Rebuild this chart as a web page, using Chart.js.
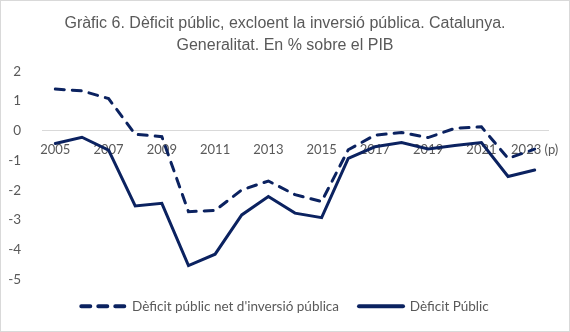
<!DOCTYPE html>
<html>
<head>
<meta charset="utf-8">
<script src="https://cdn.jsdelivr.net/npm/chart.js@4"></script>
<style>
    html, body { margin: 0; padding: 0; background: #fff; }
    #frame {
        width: 570px; height: 332px; box-sizing: border-box;
        border: 1px solid #d9d9d9; background: #fff;
    }
    #chartBox { width: 568px; height: 330px; position: relative; }
</style>
</head>
<body>
<div id="frame"><div id="chartBox"><canvas id="deficitChart"></canvas></div></div>
<script>
// Anys de la sèrie (2023 és previsió)
var years = ['2005', '2006', '2007', '2008', '2009', '2010', '2011', '2012', '2013', '2014',
    '2015', '2016', '2017', '2018', '2019', '2020', '2021', '2022', '2023 (p)'];

// Dèficit públic net d'inversió pública (% PIB)
var deficitNetInversio = [1.40, 1.34, 1.08, -0.12, -0.20, -2.72, -2.68, -1.99, -1.69, -2.15,
    -2.38, -0.64, -0.15, -0.06, -0.23, 0.08, 0.13, -0.93, -0.62];

// Dèficit públic (% PIB)
var deficitPublic = [-0.43, -0.22, -0.65, -2.53, -2.44, -4.53, -4.15, -2.83, -2.21, -2.77,
    -2.92, -0.93, -0.54, -0.40, -0.61, -0.50, -0.40, -1.54, -1.32];

var yTicks = [2, 1, 0, -1, -2, -3, -4, -5];

var navy = '#0b2260';
var grey = '#595959';
var dashPattern = [9, 8];

const ctx = document.getElementById('deficitChart').getContext('2d');
new Chart(ctx, {
    type: 'line',
    data: {
        labels: years,
        datasets: [
            {
                label: "Dèficit públic net d'inversió pública",
                data: deficitNetInversio,
                borderColor: navy,
                backgroundColor: navy,
                borderWidth: 3,
                borderDash: dashPattern,
                borderCapStyle: 'round',
                pointRadius: 0,
                tension: 0
            },
            {
                label: 'Dèficit Públic',
                data: deficitPublic,
                borderColor: navy,
                backgroundColor: navy,
                borderWidth: 3,
                borderCapStyle: 'round',
                pointRadius: 0,
                tension: 0
            }
        ]
    },
    options: {
        responsive: true,
        maintainAspectRatio: false,
        animation: false,
        layout: { padding: { top: 11, right: 0, bottom: 8, left: 0 } },
        plugins: {
            title: {
                display: true,
                text: ['Gràfic 6. Dèficit públic, excloent la inversió pública. Catalunya.',
                    'Generalitat. En % sobre el PIB'],
                color: grey,
                font: { family: 'Liberation Sans', size: 16, weight: 'normal', lineHeight: 1.35 },
                padding: { top: 1, bottom: 15 }
            },
            legend: {
                position: 'bottom',
                labels: {
                    usePointStyle: true,
                    pointStyle: 'line',
                    pointStyleWidth: 44,
                    boxHeight: 10,
                    color: grey,
                    padding: 20,
                    font: { family: 'Lato', size: 13.5 },
                    // the legend samples take the dash of their own dataset
                    generateLabels: function (chart) {
                        var items = Chart.defaults.plugins.legend.labels.generateLabels(chart);
                        items.forEach(function (item) {
                            var ds = chart.data.datasets[item.datasetIndex];
                            item.lineDash = ds.borderDash || [];
                            item.lineCap = 'round';
                            item.lineWidth = 4;
                        });
                        return items;
                    }
                }
            },
            tooltip: { enabled: false }
        },
        scales: {
            x: {
                position: { y: 0 },
                offset: true,
                grid: { display: false },
                border: { color: '#d9d9d9', width: 1 },
                ticks: {
                    color: grey,
                    font: { family: 'Lato', size: 13 },
                    maxRotation: 0,
                    autoSkip: false,
                    padding: 3,
                    callback: function (value, index) {
                        return index % 2 === 0 ? years[index] : '';
                    }
                }
            },
            y: {
                min: yTicks[yTicks.length - 1],
                max: yTicks[0],
                grid: { display: false },
                border: { display: false },
                afterFit: function (scale) { scale.width = 41; },
                ticks: {
                    stepSize: 1,
                    color: grey,
                    padding: 13,
                    font: { family: 'Lato', size: 13.5 }
                }
            },
            // empty margin on the right of the plot
            spacer: {
                type: 'linear',
                position: 'right',
                grid: { display: false },
                border: { display: false },
                ticks: { display: false },
                afterFit: function (scale) { scale.width = 21; }
            }
        }
    }
});
</script>
</body>
</html>
